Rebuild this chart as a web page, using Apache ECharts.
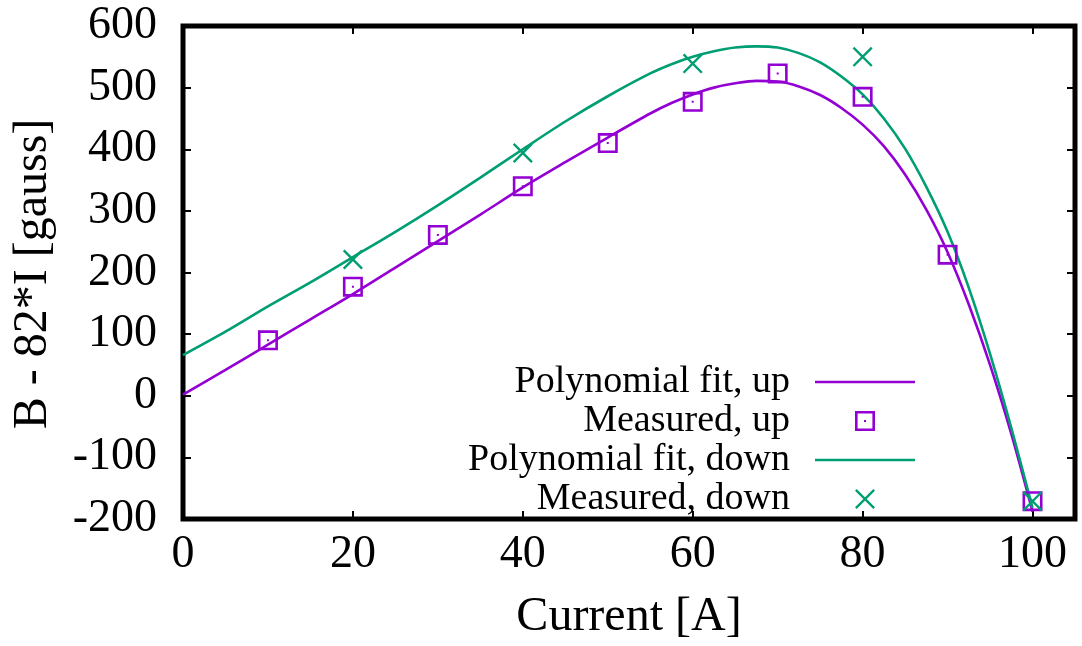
<!DOCTYPE html>
<html>
<head>
<meta charset="utf-8">
<script src="https://cdn.jsdelivr.net/npm/echarts@6/dist/echarts.min.js"></script>
<style>
html,body{margin:0;padding:0;background:#fff;}
#chart{width:1082px;height:646px;}
</style>
</head>
<body>
<div id="chart"></div>
<script>
// ---- data ----
const xFit = [0,5,10,15,20,25,30,35,40,45,50,55,57.5,60,62.5,65,67.5,70,72.5,75,77.5,80,82.5,85,87.5,90,92.5,95,97.5,100];
const fitUp = [2,42,83,124,165,208,251,294,338,379,419,458,475,489,500,507,511,510,502,488,467,440,405,359,302,233,148,50,-62,-188];
const fitDown = [66,104,145,184,225,266,309,354,400,445,486,523,538,550,559,565,567,565,556,541,518,489,450,401,339,266,175,68,-52,-182];
const xMeasUp = [10,20,30,40,50,60,70,80,90,100];
const measUp = [90,177,261,340,410,477,523,485,229,-171];
const xMeasDown = [20,40,60,80,100];
const measDown = [221,394,539,550,-171];
const seriesNames = ['Polynomial fit, up','Measured, up','Polynomial fit, down','Measured, down'];
const xTitle = 'Current [A]';
const yTitle = 'B - 82*I [gauss]';

const FONT = 'Liberation Serif';
const PURPLE = '#9400D3';
const GREEN = '#009E73';
const squareSym = 'path://M0,0 L20,0 L20,20 L0,20 Z M2.6,2.6 L2.6,17.4 L17.4,17.4 L17.4,2.6 Z M9,9 L11,9 L11,11 L9,11 Z';
const crossSym = 'path://M-0.92,0.92 L19.08,20.92 L20.92,19.08 L0.92,-0.92 Z M19.08,-0.92 L-0.92,19.08 L0.92,20.92 L20.92,0.92 Z';
const lineIcon = 'path://M0,0 L100,0 L100,2.6 L0,2.6 Z';

const pair = (xs, ys) => xs.map((x, i) => [x, ys[i]]);

const chart = echarts.init(document.getElementById('chart'), null, {renderer: 'canvas'});
const tickCommon = {show: true, inside: true, length: 8, lineStyle: {color: '#000', width: 2}};
chart.setOption({
  animation: false,
  backgroundColor: '#fff',
  grid: {left: 183, right: 7, top: 26, bottom: 126, show: true, borderWidth: 5, borderColor: '#000'},
  xAxis: [{
    type: 'value', min: 0, max: 105, interval: 20,
    axisLine: {show: false, onZero: false},
    axisTick: tickCommon,
    splitLine: {show: false},
    axisLabel: {showMaxLabel: false, fontFamily: FONT, fontSize: 46, color: '#000', margin: 13},
    name: xTitle, nameLocation: 'middle', nameGap: 74,
    nameTextStyle: {fontFamily: FONT, fontSize: 48, color: '#000'}
  }, {
    type: 'value', min: 0, max: 105, interval: 20, position: 'top',
    axisLine: {show: false, onZero: false}, axisTick: tickCommon, splitLine: {show: false},
    axisLabel: {show: false}
  }],
  yAxis: [{
    type: 'value', min: -200, max: 600, interval: 100,
    axisLine: {show: false, onZero: false},
    axisTick: tickCommon,
    splitLine: {show: false},
    axisLabel: {fontFamily: FONT, fontSize: 46, color: '#000', margin: 26}
  }, {
    type: 'value', min: -200, max: 600, interval: 100, position: 'right',
    axisLine: {show: false, onZero: false}, axisTick: tickCommon, splitLine: {show: false},
    axisLabel: {show: false}
  }],
  graphic: [{
    type: 'text',
    x: 33, y: 274,
    rotation: Math.PI / 2,
    style: {text: yTitle, fontFamily: FONT, fontSize: 48, fill: '#000', align: 'center', verticalAlign: 'middle'}
  }],
  legend: {
    orient: 'vertical', right: 162, top: 358, align: 'right',
    itemWidth: 100, itemHeight: 20, itemGap: 1,
    textStyle: {fontFamily: FONT, fontSize: 38, color: '#000', padding: [0, 20, 0, 0]},
    data: [
      {name: seriesNames[0], icon: lineIcon, itemStyle: {color: PURPLE, opacity: 1}},
      {name: seriesNames[1], icon: squareSym, itemStyle: {color: PURPLE, opacity: 1}},
      {name: seriesNames[2], icon: lineIcon, itemStyle: {color: GREEN, opacity: 1}},
      {name: seriesNames[3], icon: crossSym, itemStyle: {color: GREEN, opacity: 1}}
    ]
  },
  series: [{
    name: seriesNames[0], type: 'line', data: pair(xFit, fitUp), smooth: 0.3,
    showSymbol: false, symbol: 'none', lineStyle: {color: PURPLE, width: 2.6}, itemStyle: {color: PURPLE}, z: 2
  }, {
    name: seriesNames[1], type: 'scatter', data: pair(xMeasUp, measUp),
    symbol: squareSym, symbolSize: 20, itemStyle: {color: PURPLE, opacity: 1}, z: 3
  }, {
    name: seriesNames[2], type: 'line', data: pair(xFit, fitDown), smooth: 0.3,
    showSymbol: false, symbol: 'none', lineStyle: {color: GREEN, width: 2.6}, itemStyle: {color: GREEN}, z: 2
  }, {
    name: seriesNames[3], type: 'scatter', data: pair(xMeasDown, measDown),
    symbol: crossSym, symbolSize: 20, itemStyle: {color: GREEN, opacity: 1}, z: 4
  }]
});
</script>
</body>
</html>
